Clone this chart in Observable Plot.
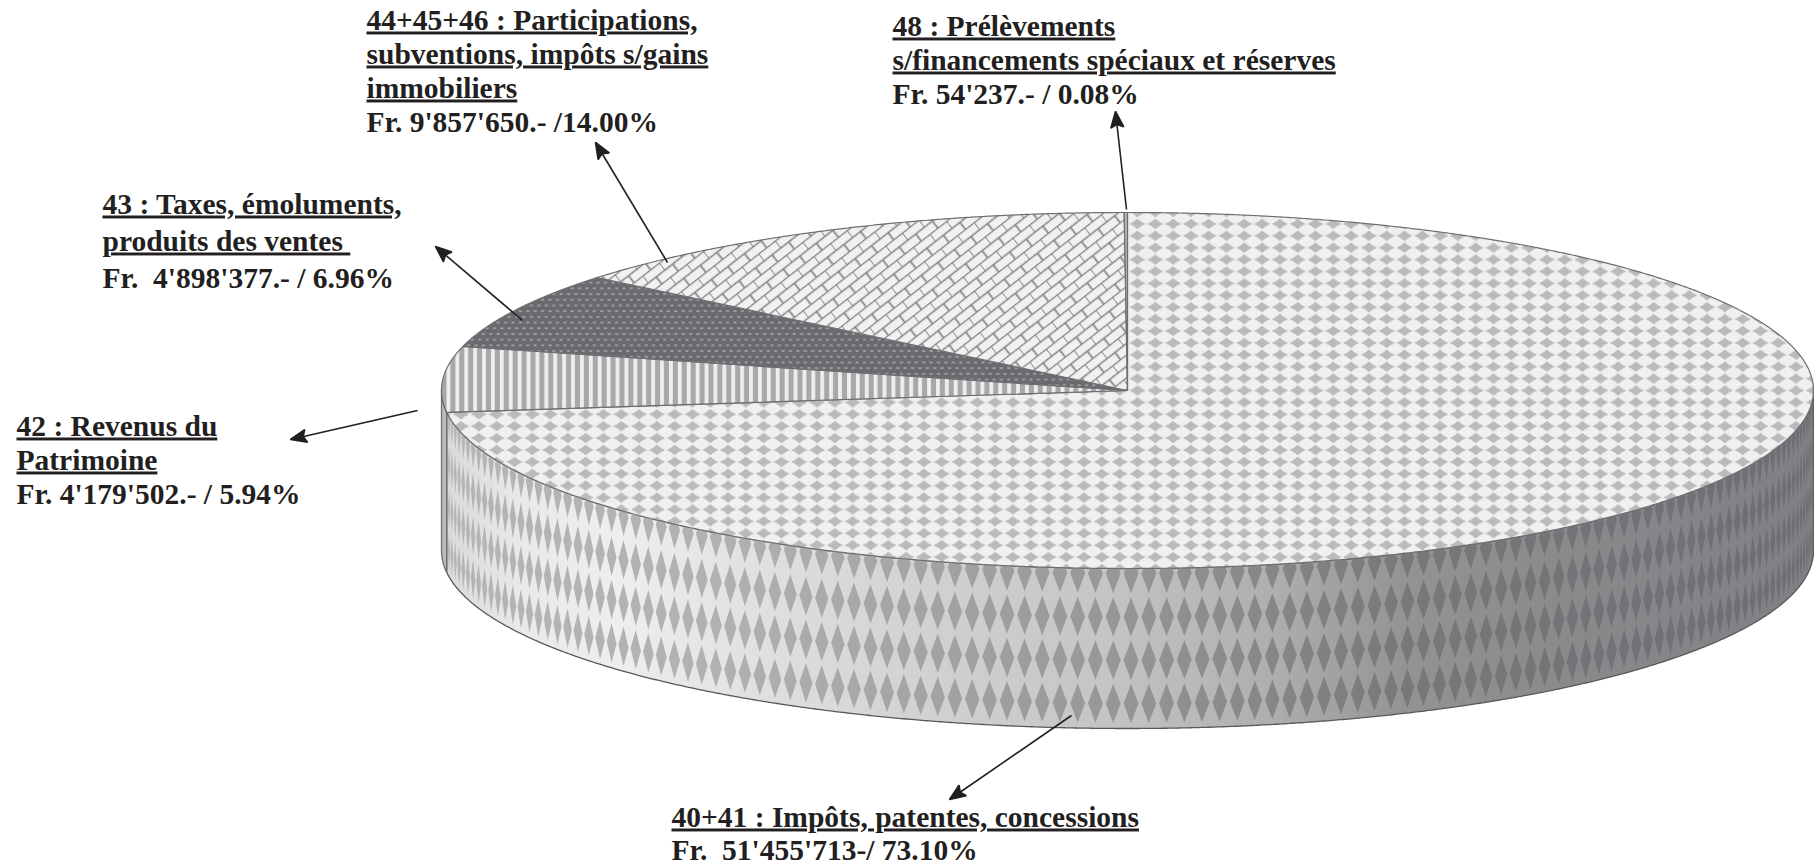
<!DOCTYPE html>
<html>
<head>
<meta charset="utf-8">
<style>
html,body{margin:0;padding:0;background:#fff}
svg{display:block}
svg text{white-space:pre}
.u text{text-decoration:underline;text-decoration-thickness:2.5px;text-underline-offset:3px;text-decoration-skip-ink:none}
</style>
<script src="https://cdn.jsdelivr.net/npm/d3@7"></script>
<script src="https://cdn.jsdelivr.net/npm/@observablehq/plot@0.6"></script>
</head>
<body>
<div id="chart"></div>
<script>
// ---- values, in slice order clockwise from 12 o'clock
const categories = ["40+41","42","43","44+45+46","48"];
const francs = [51455713, 4179502, 4898377, 9857650, 54237];
const sliceFills = ["url(#pDiamond)","url(#pStripes)","url(#pDots)","url(#pBricks)","#b5b6b8"];

// ---- text blocks: [x, baseline, text, underlined]
const labelX = [366,366,366,366, 102,102,102, 16,16,16, 892,892,892, 671,671];
const labelY = [29,63,97,131, 213,250,287, 435,469,503, 35,69,103, 826,859];
const labelText = [
 "44+45+46 : Participations,","subventions, impôts s/gains","immobiliers","Fr. 9'857'650.- /14.00%",
 "43 : Taxes, émoluments,","produits des ventes ","Fr.  4'898'377.- / 6.96%",
 "42 : Revenus du","Patrimoine","Fr. 4'179'502.- / 5.94%",
 "48 : Prélèvements","s/financements spéciaux et réserves","Fr. 54'237.- / 0.08%",
 "40+41 : Impôts, patentes, concessions","Fr.  51'455'713-/ 73.10%"];
const labelUnder = [1,1,1,0, 1,1,0, 1,1,0, 1,1,0, 1,0];

// ---- leader arrows
const arrowX1 = [1126,667,522,417,1071];
const arrowY1 = [209,262,320,410,715];
const arrowX2 = [1115,595,435,290,949];
const arrowY2 = [111,142,246,439,799];

// ---- pie geometry
const cx = 1127, cy = 390, rx = 686, ry = 178, depth = 160;
const total = d3.sum(francs);
const px = a => cx + rx*Math.sin(a);
const py = (a,d=0) => cy - ry*Math.cos(a) + d;
const TAU = Math.PI*2;
let run = 0;
const turns = francs.map(v => { const t=[run/total*TAU,(run+v)/total*TAU]; run+=v; return t; });
const arc = (a0,a1,d=0) => {
  const n = Math.max(2,Math.ceil(Math.abs(a1-a0)/0.004)), out=[];
  for (let i=0;i<=n;i++){ const a=a0+(a1-a0)*i/n; out.push({x:px(a),y:py(a,d)}); }
  return out;
};
const sliceShape = ([a0,a1]) => [{x:cx,y:cy},...arc(a0,a1),{x:cx,y:cy}];
const wallShape = (a0,a1) => { const t=arc(a0,a1), b=arc(a0,a1,depth).reverse(); return [...t,...b,t[0]]; };

// wall texture: tall diamonds wrapped around the cylinder
const wallA0 = Math.PI/2, wallA1 = turns[0][1];
const colStep = 17.8/rx, colHalf = 7.4/rx, rowHalf = 19.7;
const rowOffsets = [5,48.4,91.7,135];
const diamonds = [];
let id = 0;
for (let k=-70;k<=70;k++){
  const c = Math.PI + k*colStep - 3.5/rx;
  if (c-colHalf*0.6 < wallA0 || c+colHalf*0.6 > wallA1) continue;
  const l = Math.max(wallA0,c-colHalf), r = Math.min(wallA1,c+colHalf);
  for (const d of rowOffsets){
    id++;
    [[l,d],[c,d-rowHalf],[r,d],[c,d+rowHalf],[l,d]].forEach(([a,o])=>diamonds.push({x:px(a),y:py(a,o),z:id}));
  }
}

const textStyle = {fontFamily:"Liberation Serif",fontWeight:"bold",fontSize:29.5,fill:"#231f20",textAnchor:"start",lineAnchor:"bottom"};
const idx = labelText.map((_,i)=>i);
const underlined = idx.filter(i=>labelUnder[i]);
const plain = idx.filter(i=>!labelUnder[i]);
const arrowIdx = arrowX1.map((_,i)=>i);

const arrowHead = () => {
  const m = document.createElementNS("http://www.w3.org/2000/svg","marker");
  m.setAttribute("viewBox","-17 -8 18 16");
  m.setAttribute("markerWidth",18); m.setAttribute("markerHeight",16);
  m.setAttribute("markerUnits","userSpaceOnUse");
  m.setAttribute("orient","auto");
  m.setAttribute("refX",0); m.setAttribute("refY",0);
  const p = document.createElementNS("http://www.w3.org/2000/svg","path");
  p.setAttribute("d","M0,0L-16,-6.5L-13,0L-16,6.5Z");
  p.setAttribute("fill","#231f20");
  m.appendChild(p);
  return m;
};

const lineOpts = {x:"x",y:"y",curve:"linear"};
const chart = Plot.plot({
  width:1814,height:864,margin:0,
  style:{background:"#fff"},
  x:{domain:[0,1814],range:[0,1814],axis:null},
  y:{domain:[0,864],range:[0,864],axis:null},
  marks:[
    Plot.line(wallShape(wallA0,wallA1),{...lineOpts,fill:"url(#gWall)",stroke:"#58595b",strokeWidth:1.3}),
    Plot.line(wallShape(wallA1,turns[1][1]>3*Math.PI/2?3*Math.PI/2:turns[1][1]),{...lineOpts,fill:"#b9babc",stroke:"#6d6e71",strokeWidth:1.3}),
    Plot.line(diamonds,{...lineOpts,z:"z",fill:"url(#gDiamond)",stroke:"none"}),
    ...turns.map((t,i)=>Plot.line(sliceShape(t),{...lineOpts,fill:sliceFills[i],stroke:"#6d6e71",strokeWidth:1.2,strokeLinejoin:"round"})),
    Plot.text(underlined,{x:i=>labelX[i],y:i=>labelY[i],text:i=>labelText[i],className:"u",...textStyle}),
    Plot.text(plain,{x:i=>labelX[i],y:i=>labelY[i],text:i=>labelText[i],...textStyle}),
    Plot.link(arrowIdx,{x1:i=>arrowX1[i],y1:i=>arrowY1[i],x2:i=>arrowX2[i],y2:i=>arrowY2[i],stroke:"#231f20",strokeWidth:1.6,markerEnd:arrowHead})
  ]
});

const defs = `<defs>
<linearGradient id="gWall" gradientUnits="userSpaceOnUse" x1="441" x2="1813" y1="0" y2="0">
 <stop offset="0" stop-color="#d8d9da"/><stop offset="0.06" stop-color="#e8e9ea"/><stop offset="0.127" stop-color="#eeeeef"/><stop offset="0.255" stop-color="#dddde0"/>
 <stop offset="0.345" stop-color="#d2d2d4"/><stop offset="0.48" stop-color="#c4c5c7"/><stop offset="0.607" stop-color="#adaeb0"/>
 <stop offset="0.703" stop-color="#929395"/><stop offset="0.83" stop-color="#88898b"/><stop offset="1" stop-color="#7f8083"/>
</linearGradient>
<linearGradient id="gDiamond" gradientUnits="userSpaceOnUse" x1="441" x2="1813" y1="0" y2="0">
 <stop offset="0" stop-color="#b4b5b7"/><stop offset="0.2" stop-color="#b0b1b3"/><stop offset="0.48" stop-color="#97989a"/>
 <stop offset="0.703" stop-color="#77787a"/><stop offset="1" stop-color="#6d6e71"/>
</linearGradient>
<pattern id="pDiamond" patternUnits="userSpaceOnUse" width="17.8" height="11.9" x="1306.1" y="384.05">
 <rect width="17.8" height="11.9" fill="#f0f0f1"/>
 <path d="M0.7,5.95Q5,4.4 8.9,0.8Q12.8,4.4 17.1,5.95Q12.8,7.5 8.9,11.1Q5,7.5 0.7,5.95Z" fill="#b9babc"/>
</pattern>
<pattern id="pStripes" patternUnits="userSpaceOnUse" width="8.9" height="10" x="445" y="0">
 <rect width="8.9" height="10" fill="#a7a8aa"/>
 <rect x="1" width="3.8" height="10" fill="#eeeeef"/>
</pattern>
<pattern id="pDots" patternUnits="userSpaceOnUse" width="7.4" height="11.4">
 <rect width="7.4" height="11.4" fill="#6a6b6e"/>
 <ellipse cx="1.9" cy="2.85" rx="1.8" ry="1" fill="#a3a4a6"/>
 <ellipse cx="5.6" cy="8.55" rx="1.8" ry="1" fill="#a3a4a6"/>
</pattern>
<pattern id="pBricks" patternUnits="userSpaceOnUse" width="21" height="18" patternTransform="rotate(-38)">
 <rect width="21" height="18" fill="#f1f1f2"/>
 <path d="M0,0.5H21M0,9.5H21M0,0.5V9.5M10.5,9.5V18.5" stroke="#808285" stroke-width="1.7" fill="none"/>
</pattern>
</defs>`;
chart.insertAdjacentHTML("afterbegin",defs);
document.getElementById("chart").appendChild(chart);
</script>
</body>
</html>
